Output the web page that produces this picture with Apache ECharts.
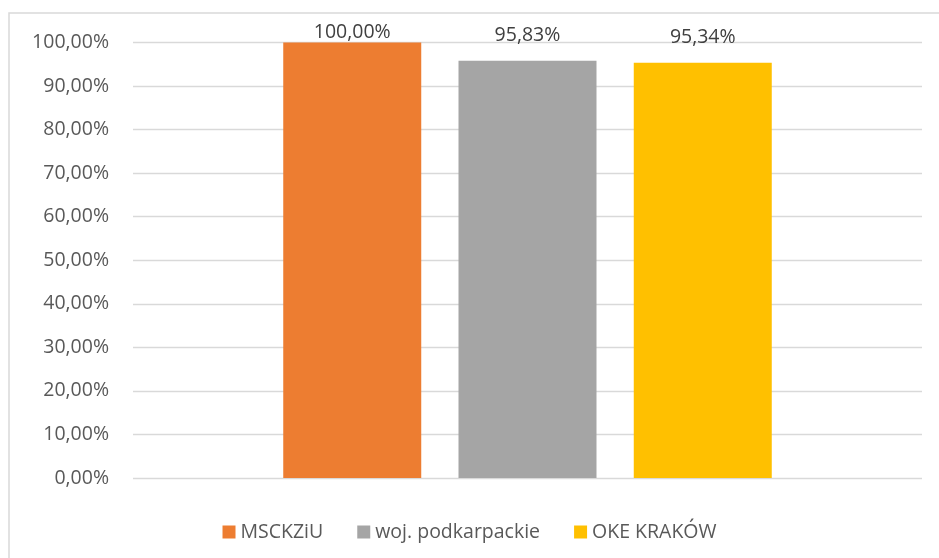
<!DOCTYPE html>
<html>
<head>
<meta charset="utf-8">
<script src="https://cdn.jsdelivr.net/npm/echarts@6/dist/echarts.min.js"></script>
<style>html,body{margin:0;padding:0;background:#fff}#c{width:939px;height:558px}</style>
</head>
<body>
<div id="c"></div>
<script>
var seriesNames = ['MSCKZiU', 'woj. podkarpackie', 'OKE KRAKÓW'];
var seriesValues = [1.0, 0.9583, 0.9534];
var seriesColors = ['#ED7D31', '#A5A5A5', '#FFC000'];
var categories = [''];
var yTicks = [0, 0.1, 0.2, 0.3, 0.4, 0.5, 0.6, 0.7, 0.8, 0.9, 1.0];
var labelDistances = [0, 15, 15];

function pct(v) { return (v * 100).toFixed(2).replace('.', ',') + '%'; }

var chart = echarts.init(document.getElementById('c'));
var font = '"Open Sans", "Noto Sans", sans-serif';
chart.setOption({
  animation: false,
  textStyle: { fontFamily: font },
  graphic: [{
    type: 'rect', shape: { x: 9, y: 13, width: 960, height: 600 },
    style: { fill: 'none', stroke: '#D9D9D9', lineWidth: 1.5 }, silent: true, z: -1
  }],
  grid: { left: 133, right: 17, top: 42.5, bottom: 80, containLabel: false },
  legend: {
    top: 517, left: 'center', icon: 'rect', itemWidth: 13, itemHeight: 13, itemGap: 34,
    textStyle: { color: '#595959', fontSize: 19.5, fontFamily: font },
    data: seriesNames
  },
  xAxis: {
    type: 'category', data: categories,
    axisLine: { show: false }, axisTick: { show: false }, axisLabel: { show: false }
  },
  yAxis: {
    type: 'value', min: yTicks[0], max: yTicks[yTicks.length - 1], interval: 0.1,
    axisLine: { show: false }, axisTick: { show: false },
    axisLabel: { color: '#595959', fontSize: 19.5, margin: 24, fontFamily: font, formatter: pct },
    splitLine: { lineStyle: { color: '#D9D9D9', width: 1.3 } }
  },
  series: seriesNames.map(function (n, i) {
    return {
      name: n, type: 'bar', data: [seriesValues[i]], barWidth: 138, barGap: '27%',
      itemStyle: { color: seriesColors[i] },
      label: { show: true, position: 'top', distance: labelDistances[i], color: '#404040', fontSize: 19.5, fontFamily: font, formatter: function (p) { return pct(p.value); } }
    };
  })
});
</script>
</body>
</html>
